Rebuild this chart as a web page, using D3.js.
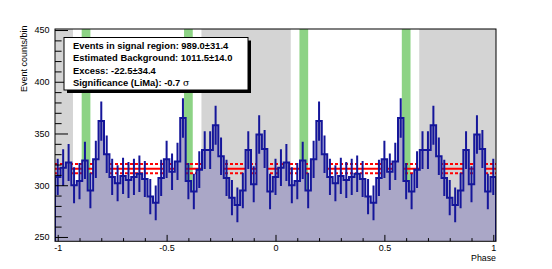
<!DOCTYPE html>
<html>
<head>
<meta charset="utf-8">
<script src="https://cdn.jsdelivr.net/npm/d3@7"></script>
<style>
  body { margin: 0; background: #fff; }
  svg { display: block; font-family: "Liberation Sans", Arial, sans-serif; }
</style>
</head>
<body>
<div id="chart"></div>
<script>
// ---------- Data ----------
// counts per bin over one phase cycle (40 bins of 0.025, centred on k*0.025)
const cycleCounts = [308, 317, 322, 300, 304, 324, 295, 325, 362, 330,
                     308, 302, 309, 305, 308, 311, 306, 289, 283, 307,
                     325, 313, 323, 365, 304, 294, 315, 334, 334, 358,
                     328, 307, 288, 281, 295, 334, 301, 349, 335, 294];
const binWidth = 0.025;
const phaseStart = -1, phaseEnd = 1;       // bin centres, the phaseogram shows two cycles

const bkgLevel = 316;
const bkgError = 4.5;
const bkgRegions = [[-1.0125, -0.93], [-0.34, 0.07], [0.66, 1.0125]];
const signalRegions = [[-0.89, -0.85], [-0.42, -0.38], [0.11, 0.15], [0.58, 0.62]];

const xMajorTicks = [-1, -0.5, 0, 0.5, 1];
const yMajorTicks = [250, 300, 350, 400, 450];

const statLines = [
  'Events in signal region: 989.0\u00b131.4',
  'Estimated Background: 1011.5\u00b114.0',
  'Excess: -22.5\u00b134.4',
  'Significance (LiMa): -0.7 '
];

// ---------- Bins ----------
const nBins = Math.round((phaseEnd - phaseStart) / binWidth) + 1;
const bins = d3.range(nBins).map(k => ({
  center: phaseStart + k * binWidth,
  count: cycleCounts[k % cycleCounts.length]
}));

// ---------- Setup ----------
const width = 552, height = 269;
const frame = { left: 55, right: 496, top: 29, bottom: 241.3 };

const svg = d3.select('#chart').append('svg')
  .attr('width', width)
  .attr('height', height);

const x = d3.scaleLinear()
  .domain([phaseStart - binWidth / 2, phaseEnd + binWidth / 2])
  .range([frame.left, frame.right]);
const y = d3.scaleLinear()
  .domain([245.8, 451])
  .range([frame.bottom, frame.top]);

svg.append('clipPath').attr('id', 'clip')
  .append('rect')
  .attr('x', frame.left).attr('y', frame.top)
  .attr('width', frame.right - frame.left).attr('height', frame.bottom - frame.top);

const plot = svg.append('g').attr('clip-path', 'url(#clip)');

// ---------- Regions ----------
plot.selectAll('rect.bkg')
  .data(bkgRegions)
  .join('rect')
  .attr('class', 'bkg')
  .attr('x', d => x(d[0]))
  .attr('width', d => x(d[1]) - x(d[0]))
  .attr('y', frame.top)
  .attr('height', frame.bottom - frame.top)
  .attr('fill', '#d4d4d4');

plot.selectAll('rect.sig')
  .data(signalRegions)
  .join('rect')
  .attr('class', 'sig')
  .attr('x', d => x(d[0]))
  .attr('width', d => x(d[1]) - x(d[0]))
  .attr('y', frame.top)
  .attr('height', frame.bottom - frame.top)
  .attr('fill', '#8dd385');

// ---------- Background level ----------
const bkgLines = [
  { v: bkgLevel, dash: null },
  { v: bkgLevel + bkgError, dash: '3,2' },
  { v: bkgLevel - bkgError, dash: '3,2' }
];
plot.selectAll('line.bkgline')
  .data(bkgLines)
  .join('line')
  .attr('x1', frame.left).attr('x2', frame.right)
  .attr('y1', d => y(d.v)).attr('y2', d => y(d.v))
  .attr('stroke', '#ff0000')
  .attr('stroke-width', 2)
  .attr('stroke-dasharray', d => d.dash);

// ---------- Histogram ----------
const edgePts = bins.map(b => [b.center - binWidth / 2, b.count]);
edgePts.push([bins[bins.length - 1].center + binWidth / 2, bins[bins.length - 1].count]);

const area = d3.area()
  .curve(d3.curveStepAfter)
  .x(d => x(d[0]))
  .y0(frame.bottom)
  .y1(d => y(d[1]));

plot.append('path')
  .datum(edgePts)
  .attr('d', area)
  .attr('fill', '#aaa7c7');

const yMin = y.domain()[0];
const linePts = [[edgePts[0][0], yMin], ...edgePts, [edgePts[edgePts.length - 1][0], yMin]];
const line = d3.line()
  .curve(d3.curveStepAfter)
  .x(d => x(d[0]))
  .y(d => y(d[1]));

plot.append('path')
  .datum(linePts)
  .attr('d', line)
  .attr('fill', 'none')
  .attr('stroke', '#15169a')
  .attr('stroke-width', 2);

plot.selectAll('line.err')
  .data(bins)
  .join('line')
  .attr('class', 'err')
  .attr('x1', d => x(d.center)).attr('x2', d => x(d.center))
  .attr('y1', d => y(d.count - Math.sqrt(d.count)))
  .attr('y2', d => y(d.count + Math.sqrt(d.count)))
  .attr('stroke', '#15169a')
  .attr('stroke-width', 2);

// ---------- Frame & axes ----------
svg.append('rect')
  .attr('x', frame.left).attr('y', frame.top)
  .attr('width', frame.right - frame.left).attr('height', frame.bottom - frame.top)
  .attr('fill', 'none')
  .attr('stroke', '#000')
  .attr('stroke-width', 1);

const xMinor = d3.range(-10, 11).map(i => i / 10).filter(v => !xMajorTicks.includes(v));
const yMinor = d3.range(250, 451, 10).filter(v => !yMajorTicks.includes(v));

svg.append('g')
  .attr('transform', `translate(0,${frame.bottom})`)
  .call(d3.axisBottom(x).tickValues(xMinor).tickSizeInner(-3.2).tickSizeOuter(0).tickFormat(''))
  .call(g => g.select('.domain').remove());

svg.append('g')
  .attr('transform', `translate(0,${frame.bottom})`)
  .call(d3.axisBottom(x).tickValues(xMajorTicks).tickSizeInner(-6.4).tickSizeOuter(0)
    .tickPadding(3).tickFormat(d => String(d)))
  .call(g => g.select('.domain').remove())
  .call(g => g.selectAll('text').attr('font-size', 9).attr('fill', '#000').attr('font-family', null));

svg.append('g')
  .attr('transform', `translate(${frame.left},0)`)
  .call(d3.axisLeft(y).tickValues(yMinor).tickSizeInner(-6.6).tickSizeOuter(0).tickFormat(''))
  .call(g => g.select('.domain').remove());

svg.append('g')
  .attr('transform', `translate(${frame.left},0)`)
  .call(d3.axisLeft(y).tickValues(yMajorTicks).tickSizeInner(-13).tickSizeOuter(0)
    .tickPadding(5.5).tickFormat(d => String(d)))
  .call(g => g.select('.domain').remove())
  .call(g => g.selectAll('text').attr('font-size', 9).attr('fill', '#000').attr('font-family', null));

svg.selectAll('.tick line').attr('stroke', '#000');

svg.append('text')
  .attr('transform', 'translate(26.5,25.5) rotate(-90)')
  .attr('text-anchor', 'end')
  .attr('font-size', 9)
  .text('Event counts/bin');

svg.append('text')
  .attr('x', 496).attr('y', 261)
  .attr('text-anchor', 'end')
  .attr('font-size', 8.8)
  .text('Phase');

// ---------- Stats box ----------
const box = { x: 64, y: 37.5, w: 184, h: 52.5 };
svg.append('rect')
  .attr('x', box.x + 3).attr('y', box.y + 3)
  .attr('width', box.w).attr('height', box.h)
  .attr('fill', '#000');
svg.append('rect')
  .attr('x', box.x).attr('y', box.y)
  .attr('width', box.w).attr('height', box.h)
  .attr('fill', '#fff')
  .attr('stroke', '#000')
  .attr('stroke-width', 1);

const txt = svg.append('g')
  .attr('font-size', 9.4)
  .attr('font-weight', 'bold');
txt.selectAll('text')
  .data(statLines)
  .join('text')
  .attr('x', 73)
  .attr('y', (d, i) => 48.5 + i * 12.6)
  .text(d => d);
txt.select('text:last-child')
  .append('tspan')
  .attr('font-weight', 'normal')
  .attr('font-family', '"DejaVu Serif", serif')
  .text('\u03c3');
</script>
</body>
</html>
